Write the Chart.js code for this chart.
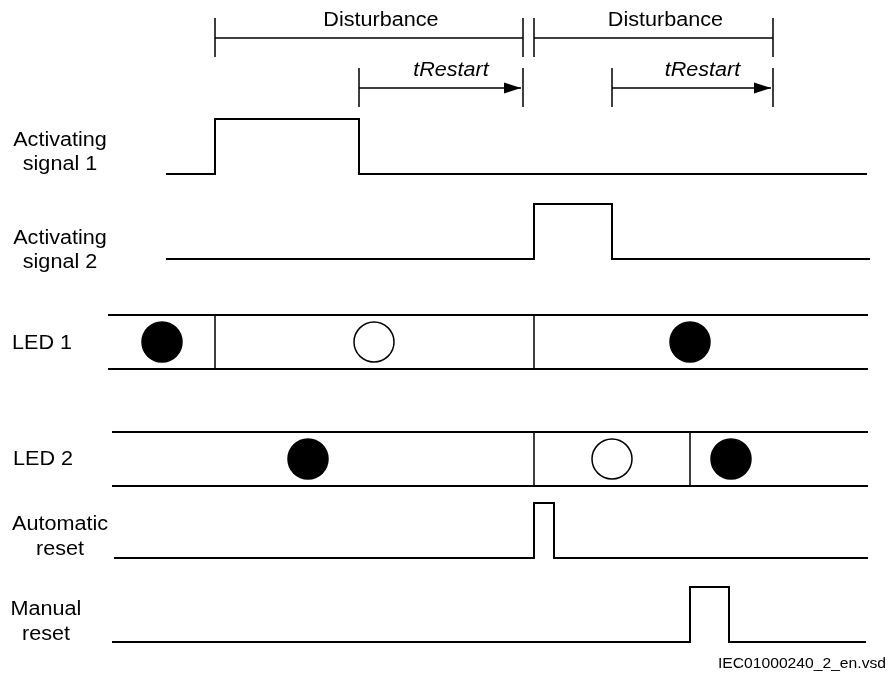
<!DOCTYPE html>
<html>
<head>
<meta charset="utf-8">
<script src="https://cdn.jsdelivr.net/npm/chart.js@4/dist/chart.umd.min.js"></script>
<style>
  html, body { margin: 0; padding: 0; background: #fff; }
  #wrap { width: 890px; height: 688px; }
</style>
</head>
<body>
<div id="wrap"><canvas id="timingChart"></canvas></div>
<script>
// row labels, top to bottom
const rowNames = [["Activating", "signal 1"], ["Activating", "signal 2"], ["LED 1"], ["LED 2"], ["Automatic", "reset"], ["Manual", "reset"]];

// pulses as [rise, fall] on the time axis
const activating1Pulse = [215, 359];
const activating2Pulse = [534, 612];
const autoResetPulse = [534, 554];
const manualResetPulse = [690, 729];

// LED rows: state changes and the state shown in each slot
const led1Changes = [215, 534];
const led1Marks = [162, 374, 690];
const led1Lit = [true, false, true];
const led2Changes = [534, 690];
const led2Marks = [308, 612, 731];
const led2Lit = [true, false, true];

// intervals above the signals
const disturbanceSpans = [[215, 523], [534, 773]];
const restartSpans = [[359, 523], [612, 773]];
const spanTitles = ["Disturbance", "Disturbance"];
const restartTitle = "tRestart";
const fileTag = "IEC01000240_2_en.vsd";

// layout (not data)
const rowBase = [174, 259, 369, 486, 558, 642];
const rowFrom = [166, 166, 108, 112, 114, 112];
const rowTo = [867, 870, 868, 868, 868, 866];
const pulseHigh = 55;
const ledBand = 54;
const labelX = [60, 60, 42, 43, 60, 46];
const labelY = [[146, 170], [244, 268], [349], [465], [530, 555], [615, 640]];
const FONT = '"Liberation Sans", Arial, sans-serif';
const STRETCH = 1.08;

function pulseLine(row, p) {
    const b = rowBase[row], h = b - pulseHigh;
    return [
        { x: rowFrom[row], y: b }, { x: p[0], y: b }, { x: p[0], y: h },
        { x: p[1], y: h }, { x: p[1], y: b }, { x: rowTo[row], y: b }
    ];
}

function ledBorders(row) {
    const b = rowBase[row], t = b - ledBand;
    return [
        { x: rowFrom[row], y: t }, { x: rowTo[row], y: t }, { x: rowTo[row], y: null },
        { x: rowFrom[row], y: b }, { x: rowTo[row], y: b }
    ];
}

function ledDividers(row, changes) {
    const b = rowBase[row], t = b - ledBand;
    const pts = [];
    changes.forEach(c => pts.push({ x: c, y: t }, { x: c, y: b }, { x: c, y: null }));
    return pts;
}

function ledLamps(row, marks, lit) {
    return {
        data: marks.map(m => ({ x: m, y: rowBase[row] - ledBand / 2 })),
        showLine: false,
        pointRadius: 20,
        pointHoverRadius: 20,
        pointStyle: 'circle',
        pointBackgroundColor: lit.map(l => l ? '#000' : '#fff'),
        pointBorderColor: '#000',
        pointBorderWidth: 1.5
    };
}

function brackets(spans, lineY, tickTop, tickBottom, endTicks) {
    const pts = [];
    spans.forEach(([a, b]) => {
        pts.push({ x: a, y: lineY }, { x: b - (endTicks ? 0 : 2), y: lineY }, { x: b, y: null });
        pts.push({ x: a, y: tickTop }, { x: a, y: tickBottom }, { x: a, y: null });
        pts.push({ x: b, y: tickTop }, { x: b, y: tickBottom }, { x: b, y: null });
    });
    return pts;
}

function line(data, width) {
    return { data, showLine: true, pointRadius: 0, borderColor: '#000', borderWidth: width, spanGaps: false, fill: false, tension: 0 };
}

function drawText(ctx, txt, x, y, size, align, italic) {
    ctx.save();
    ctx.font = (italic ? 'italic ' : '') + size + 'px ' + FONT;
    ctx.textBaseline = 'alphabetic';
    ctx.fillStyle = '#000';
    ctx.translate(x, y);
    ctx.scale(STRETCH, 1);
    ctx.textAlign = align;
    ctx.fillText(txt, 0, 0);
    ctx.restore();
}

const diagramText = {
    id: 'diagramText',
    afterDatasetsDraw(chart) {
        const ctx = chart.ctx;
        const xs = chart.scales.x, ys = chart.scales.y;

        // arrow heads on tRestart
        ctx.save();
        ctx.fillStyle = '#000';
        restartSpans.forEach(([a, b]) => {
            const tip = xs.getPixelForValue(b - 2);
            const yy = ys.getPixelForValue(88);
            ctx.beginPath();
            ctx.moveTo(tip, yy);
            ctx.lineTo(tip - 17, yy - 5.5);
            ctx.lineTo(tip - 17, yy + 5.5);
            ctx.closePath();
            ctx.fill();
        });
        ctx.restore();

        disturbanceSpans.forEach(([a, b], i) => {
            drawText(ctx, spanTitles[i], xs.getPixelForValue((a + b) / 2 + 12), ys.getPixelForValue(26), 20, 'center', false);
        });
        restartSpans.forEach(([a, b]) => {
            drawText(ctx, restartTitle, xs.getPixelForValue((a + b) / 2 + 10), ys.getPixelForValue(76), 20, 'center', true);
        });

        rowNames.forEach((lines, i) => {
            lines.forEach((txt, j) => {
                drawText(ctx, txt, xs.getPixelForValue(labelX[i]), ys.getPixelForValue(labelY[i][j]), 20, 'center', false);
            });
        });

        drawText(ctx, fileTag, xs.getPixelForValue(886), ys.getPixelForValue(668), 14.5, 'right', false);
    }
};

const datasets = [
    line(pulseLine(0, activating1Pulse), 2),
    line(pulseLine(1, activating2Pulse), 2),
    line(ledBorders(2), 2),
    line(ledDividers(2, led1Changes), 1.5),
    ledLamps(2, led1Marks, led1Lit),
    line(ledBorders(3), 2),
    line(ledDividers(3, led2Changes), 1.5),
    ledLamps(3, led2Marks, led2Lit),
    line(pulseLine(4, autoResetPulse), 2),
    line(pulseLine(5, manualResetPulse), 2),
    line(brackets(disturbanceSpans, 38, 18, 57, true), 1.5),
    line(brackets(restartSpans, 88, 68, 107, false), 1.5)
];

new Chart(document.getElementById('timingChart'), {
    type: 'scatter',
    data: { datasets },
    options: {
        responsive: true,
        maintainAspectRatio: false,
        animation: false,
        layout: { padding: 0, autoPadding: false },
        plugins: {
            legend: { display: false },
            tooltip: { enabled: false }
        },
        scales: {
            x: { type: 'linear', display: false, min: 0, max: 890 },
            y: { type: 'linear', display: false, min: 0, max: 688, reverse: true }
        }
    },
    plugins: [diagramText]
});
</script>
</body>
</html>
